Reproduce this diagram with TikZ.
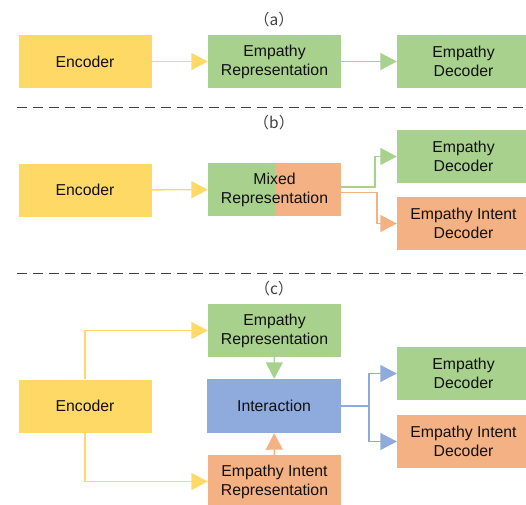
\documentclass[tikz,border=0pt]{standalone}
\usepackage{fontspec}
\setmainfont{Liberation Sans}
\newfontfamily\cjk{Noto Sans CJK SC}
\usetikzlibrary{arrows.meta}
\definecolor{cyel}{HTML}{FFD966}
\definecolor{cgrn}{HTML}{A9D18E}
\definecolor{corg}{HTML}{F4B183}
\definecolor{cblu}{HTML}{8FAADC}
\definecolor{ctxt}{HTML}{111111}
\definecolor{cdash}{HTML}{404040}
\tikzset{
  box/.style={rectangle, minimum width=133pt, minimum height=53pt, inner sep=0pt,
    align=center, text=ctxt, font=\fontsize{15.8}{19}\selectfont},
  ybox/.style={box, fill=cyel},
  gbox/.style={box, fill=cgrn},
  obox/.style={box, fill=corg},
  bbox/.style={box, fill=cblu},
  arr/.style={line width=1.4pt, -{Triangle[length=16.5pt, width=17pt]}},
  seplbl/.style={font=\cjk\fontsize{15.5}{17}\selectfont, text=cdash},
  sepline/.style={draw=cdash, line width=1.5pt, dash pattern=on 10pt off 6pt},
}
\begin{document}
\begin{tikzpicture}[x=1pt, y=-1pt]
\useasboundingbox (0,0) rectangle (526,504);
% ---------- (a)
\node[seplbl] (la) at (274,20) {（a）};
\node[ybox] (encA) at (85,61.5) {Encoder};
\node[gbox] (repA) at (274.5,61.5) {Empathy\\Representation};
\node[gbox] (decA) at (463.5,61.5) {Empathy\\Decoder};
\draw[arr, draw=cyel] (encA) -- (repA);
\draw[arr, draw=cgrn] (repA) -- (decA);
\coordinate (s1a) at (17,107.5);
\coordinate (s1b) at (526,107.5);
\draw[sepline] (s1a) -- (s1b);
% ---------- (b)
\node[seplbl] (lb) at (274,123) {（b）};
\node[ybox] (encB) at (85,190) {Encoder};
\fill[cgrn] (208,163) rectangle (274.5,216);
\fill[corg] (274.5,163) rectangle (341,216);
\node[box] (mixB) at (274.5,189.5) {Mixed\\Representation};
\node[gbox] (decB1) at (463.5,156.5) {Empathy\\Decoder};
\node[obox] (decB2) at (463.5,223.5) {Empathy Intent\\Decoder};
\draw[arr, draw=cyel] (encB) -- (mixB);
\draw[arr, draw=cgrn] ([yshift=2.5pt]mixB.east) -| (375,156.5) -- (decB1.west);
\draw[arr, draw=corg] ([yshift=-3pt]mixB.east) -| (377,223.5) -- (decB2.west);
\coordinate (s2a) at (17,273.5);
\coordinate (s2b) at (526,273.5);
\draw[sepline] (s2a) -- (s2b);
% ---------- (c)
\node[seplbl] (lc) at (274,289) {（c）};
\node[ybox] (encC) at (85,406) {Encoder};
\node[gbox] (repC) at (274.5,330.5) {Empathy\\Representation};
\node[bbox, minimum width=134pt, minimum height=54pt] (intC) at (274,406) {Interaction};
\node[obox] (irepC) at (274.5,481.5) {Empathy Intent\\Representation};
\node[gbox] (decC1) at (463.5,373.5) {Empathy\\Decoder};
\node[obox] (decC2) at (463.5,441.5) {Empathy Intent\\Decoder};
\draw[arr, draw=cyel] (encC.north) |- (repC.west);
\draw[arr, draw=cyel] (encC.south) |- (irepC.west);
\draw[arr, draw=cgrn] (repC) -- (intC);
\draw[arr, draw=corg] (irepC) -- (intC);
\coordinate (split) at (369,406);
\draw[line width=1.4pt, draw=cblu] (intC.east) -- (split);
\draw[arr, draw=cblu] (split) |- (decC1.west);
\draw[arr, draw=cblu] (split) |- (decC2.west);
\end{tikzpicture}
\end{document}
